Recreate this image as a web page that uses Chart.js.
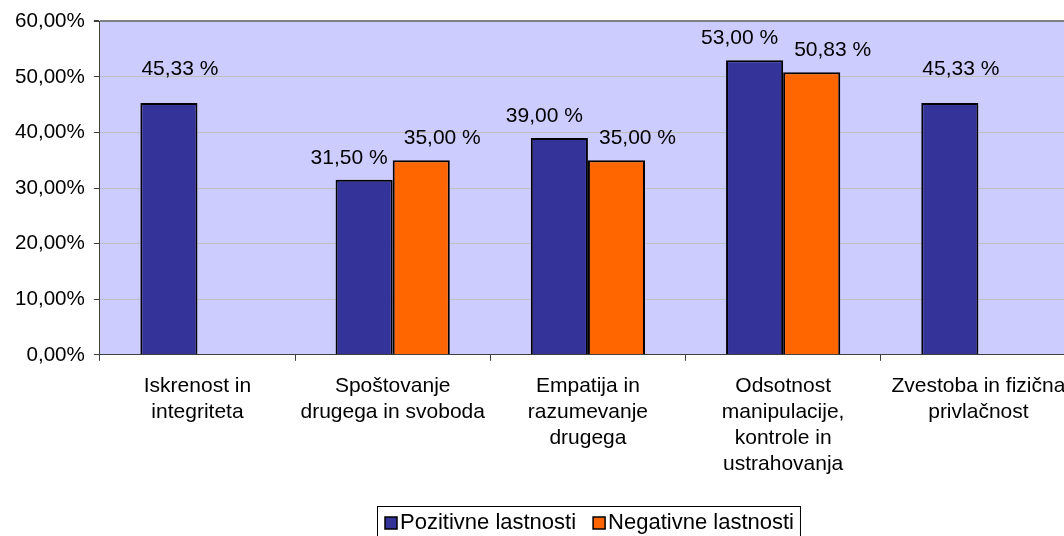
<!DOCTYPE html>
<html>
<head>
<meta charset="utf-8">
<script src="https://cdn.jsdelivr.net/npm/chart.js@4/dist/chart.umd.min.js"></script>
<style>
  html, body { margin: 0; padding: 0; background: #fff; overflow: hidden; }
  #wrap { width: 1082px; height: 536px; position: relative; }
</style>
</head>
<body>
<div id="wrap"><canvas id="lastnostiChart"></canvas></div>
<script>
const categories = [
    ['Iskrenost in', 'integriteta'],
    ['Spoštovanje', 'drugega in svoboda'],
    ['Empatija in', 'razumevanje', 'drugega'],
    ['Odsotnost', 'manipulacije,', 'kontrole in', 'ustrahovanja'],
    ['Zvestoba in fizična', 'privlačnost']
];
const pozitivne = [45.33, 31.50, 39.00, 53.00, 45.33];
const negativne = [null, 35.00, 35.00, 50.83, null];
const yTicks = [0, 10, 20, 30, 40, 50, 60];

const FONT = 'Liberation Sans, Arial, sans-serif';
const FS = 21;

function fmt(v, sep) {
    return v.toFixed(2).replace('.', ',') + sep + '%';
}

// lavender plot background
const plotBg = {
    id: 'plotBg',
    beforeDraw(chart) {
        const a = chart.chartArea;
        const c = chart.ctx;
        c.save();
        c.fillStyle = '#CCCCFF';
        c.fillRect(a.left, a.top, a.right - a.left, a.bottom - a.top);
        c.restore();
    }
};

// value labels above the bars
const valueLabels = {
    id: 'valueLabels',
    afterDatasetsDraw(chart) {
        const c = chart.ctx;
        c.save();
        c.font = FS + 'px ' + FONT;
        c.fillStyle = '#000';
        c.textAlign = 'center';
        c.textBaseline = 'middle';
        chart.data.datasets.forEach((ds, di) => {
            const meta = chart.getDatasetMeta(di);
            meta.data.forEach((bar, i) => {
                const v = ds.data[i];
                if (v == null) return;
                const pair = pozitivne[i] != null && negativne[i] != null;
                let dx = 0, dy = 22;
                if (pair) dx = di === 0 ? -15 : 21;
                else { dx = 11; dy = 34; }
                c.fillText(fmt(v, ' '), bar.x + dx, bar.y - dy);
            });
        });
        c.restore();
    }
};

// legend in a frame, drawn from the dataset list
const frameLegend = {
    id: 'frameLegend',
    afterDraw(chart) {
        const c = chart.ctx;
        const sets = chart.data.datasets;
        c.save();
        c.font = '22px ' + FONT;
        const box = 12, gapBox = 3, gapItem = 17, padL = 8, padR = 6;
        let total = 0;
        sets.forEach((ds, i) => {
            total += box + gapBox + c.measureText(ds.label).width;
            if (i < sets.length - 1) total += gapItem;
        });
        const w = total + padL + padR;
        const cx = 588;
        const x0 = Math.round(cx - w / 2);
        const top = 506;
        c.strokeStyle = '#000';
        c.lineWidth = 1;
        c.strokeRect(x0 + 0.5, top + 0.5, w, 40);
        let x = x0 + padL;
        const ty = 523;
        c.textBaseline = 'middle';
        c.textAlign = 'left';
        sets.forEach(ds => {
            c.fillStyle = ds.backgroundColor;
            c.fillRect(x, ty - 6, box, box);
            c.lineWidth = 1.5;
            c.strokeStyle = '#000';
            c.strokeRect(x, ty - 6, box, box);
            x += box + gapBox;
            c.fillStyle = '#000';
            c.fillText(ds.label, x, ty);
            x += c.measureText(ds.label).width + gapItem;
        });
        c.restore();
    }
};

const ctx = document.getElementById('lastnostiChart').getContext('2d');
const lastnostiChart = new Chart(ctx, {
    type: 'bar',
    data: {
        labels: categories,
        datasets: [
            {
                label: 'Pozitivne lastnosti',
                data: pozitivne,
                backgroundColor: '#333399',
                borderColor: '#000',
                borderWidth: 2,
                categoryPercentage: 0.585,
                barPercentage: 1.0
            },
            {
                label: 'Negativne lastnosti',
                data: negativne,
                backgroundColor: '#FF6600',
                borderColor: '#000',
                borderWidth: 2,
                categoryPercentage: 0.585,
                barPercentage: 1.0
            }
        ]
    },
    options: {
        responsive: true,
        maintainAspectRatio: false,
        animation: false,
        layout: { padding: { top: 12, left: 6, right: 6, bottom: 47 } },
        plugins: {
            legend: { display: false },
            tooltip: { enabled: false }
        },
        scales: {
            x: {
                grid: {
                    offset: true,
                    drawOnChartArea: false,
                    drawTicks: true,
                    tickLength: 6,
                    tickColor: '#404040'
                },
                border: { color: '#404040', width: 1 },
                ticks: {
                    font: { family: FONT, size: FS, lineHeight: 1.24 },
                    color: '#000',
                    maxRotation: 0,
                    autoSkip: false,
                    padding: 12
                }
            },
            y: {
                min: 0,
                max: 60,
                afterBuildTicks(axis) {
                    axis.ticks = yTicks.map(v => ({ value: v }));
                },
                grid: {
                    color: c => c.tick && c.tick.value === 60 ? '#808080' : '#C0C0C0',
                    lineWidth: c => c.tick && c.tick.value === 60 ? 2 : 1,
                    tickLength: 6,
                    tickColor: '#404040'
                },
                border: { color: '#404040', width: 1 },
                ticks: {
                    font: { family: FONT, size: 20.6 },
                    color: '#000',
                    padding: 9,
                    callback: v => fmt(v, '')
                }
            }
        }
    },
    plugins: [plotBg, valueLabels, frameLegend]
});
</script>
</body>
</html>
